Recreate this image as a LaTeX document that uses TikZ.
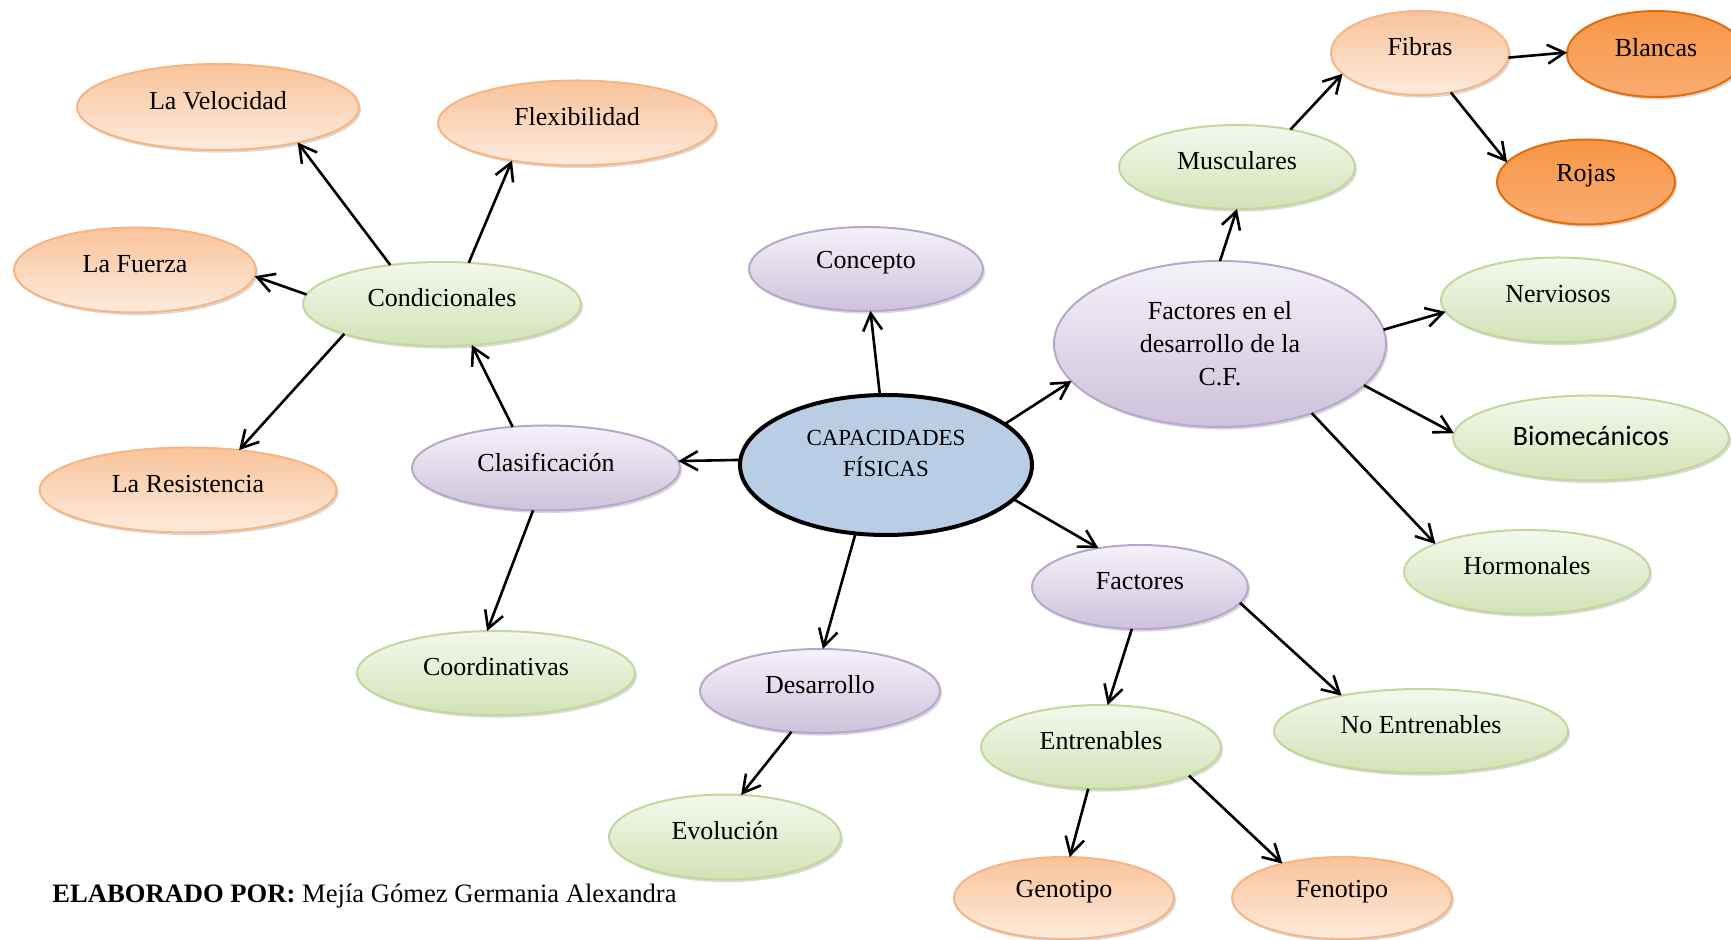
\documentclass[tikz,border=0pt]{standalone}
\usepackage{fontspec}
\setmainfont{Liberation Serif}
\newfontfamily\calib{Carlito}
\usetikzlibrary{shapes.geometric,arrows.meta,shadows}
\definecolor{gtop}{HTML}{F4F8EE}
\definecolor{gbot}{HTML}{D3E2B6}
\definecolor{gdraw}{HTML}{C3D69B}
\definecolor{otop}{HTML}{F9C39A}
\definecolor{obot}{HTML}{FDEBDD}
\definecolor{odraw}{HTML}{F8B584}
\definecolor{ptop}{HTML}{F5F2F9}
\definecolor{pbot}{HTML}{CDC2DB}
\definecolor{pdraw}{HTML}{B7A7CC}
\definecolor{dtop}{HTML}{F79646}
\definecolor{dbot}{HTML}{F9AC70}
\definecolor{ddraw}{HTML}{E46C0A}
\definecolor{capblue}{HTML}{B9CDE5}
\begin{document}
\begin{tikzpicture}[x=0.5pt,y=-0.5pt,
  base/.style={ellipse, inner sep=0pt, outer sep=0pt, line width=1pt,
    drop shadow={shadow xshift=1pt, shadow yshift=-1.3pt, fill=black!30}},
  gn/.style={base, draw=gdraw, top color=gtop, bottom color=gbot},
  onode/.style={base, draw=odraw, top color=otop, bottom color=obot},
  pn/.style={base, draw=pdraw, top color=ptop, bottom color=pbot},
  dn/.style={base, draw=ddraw, top color=dtop, bottom color=dbot},
  sz/.style 2 args={minimum width=#1pt, minimum height=#2pt},
  txt/.style={font=\fontsize{13}{15}\selectfont, inner sep=0pt},
  lab/.style={label={[txt,yshift=3pt]center:#1}},
  arr/.style={line width=1.3pt, -{Straight Barb[length=8.5pt,width=9.5pt]}}
]
\useasboundingbox (0,0) rectangle (1731,940);

% central
\node[ellipse, inner sep=0pt, outer sep=0pt, draw=black, line width=2pt, fill=capblue, sz={146}{70},
  label={[txt, font=\fontsize{11.5}{15.5}\selectfont, align=center, yshift=5.5pt]center:{CAPACIDADES\\FÍSICAS}}] (cap) at (886,465) {};

% purple
\node[pn, sz={117}{42}, lab=Concepto] (conc) at (866,269) {};
\node[pn, sz={134}{42.5}, lab=Clasificación] (clas) at (546,468) {};
\node[pn, sz={120}{42}, lab=Desarrollo] (des) at (820,691) {};
\node[pn, sz={108}{42}, lab=Factores] (fac) at (1140,587) {};
\node[pn, sz={166}{83},
  label={[txt, font=\fontsize{13}{16.5}\selectfont, align=center]center:{Factores en el\\desarrollo de la\\C.F.}}] (fdes) at (1220,344) {};

% green
\node[gn, sz={139}{42}, lab=Condicionales] (cond) at (442,304) {};
\node[gn, sz={139}{42}, lab=Coordinativas] (coord) at (496,673) {};
\node[gn, sz={116}{42.5}, lab=Evolución] (evo) at (725,837) {};
\node[gn, sz={118}{42}, lab=Musculares] (musc) at (1237,167) {};
\node[gn, sz={117}{42.5}, lab=Nerviosos] (nerv) at (1558,300) {};
\node[gn, sz={138}{42.5},
  label={[txt, font=\calib\fontsize{14}{16}\selectfont, yshift=1pt]center:Biomecánicos}] (bio) at (1591,438) {};
\node[gn, sz={123}{42}, lab=Hormonales] (hor) at (1527,572) {};
\node[gn, sz={147}{42}, lab={No Entrenables}] (noent) at (1421,731) {};
\node[gn, sz={120}{42}, lab=Entrenables] (ent) at (1101,747) {};

% light orange
\node[onode, sz={141}{43}, lab={La Velocidad}] (vel) at (218,107) {};
\node[onode, sz={139}{42.5}, lab=Flexibilidad] (flex) at (577,123) {};
\node[onode, sz={121}{42.5}, lab={La Fuerza}] (fue) at (135,270) {};
\node[onode, sz={148.5}{42.5}, lab={La Resistencia}] (res) at (188,490) {};
\node[onode, sz={89}{42}, lab=Fibras] (fib) at (1420,53) {};
\node[onode, sz={110}{41}, lab=Genotipo] (gen) at (1064,898) {};
\node[onode, sz={110}{41}, lab=Fenotipo] (fen) at (1342,898) {};

% dark orange
\node[dn, sz={89}{43}, lab=Blancas] (bla) at (1656,54) {};
\node[dn, sz={89}{42.5}, lab=Rojas] (roj) at (1586,182) {};

% connectors
\draw[arr] (cap.95) -- (conc.-84);
\draw[arr] (cap.178) -- (clas.3);
\draw[arr] (cap.19) -- (fdes.-166);
\draw[arr] (cap.-15) -- (fac.137);
\draw[arr] (cap.-114) -- (des.86);
\draw[arr] (clas.129) -- (cond.-54);
\draw[arr] (clas.-107) -- (coord.102);
\draw[arr] (cond.143) -- (vel.-24);
\draw[arr] (cond.57) -- (flex.-150);
\draw[arr] (cond.176) -- (fue.-3);
\draw[arr] (cond.-163) -- (res.38);
\draw[arr] (des.-125) -- (evo.69);
\draw[arr] (fdes.90) -- (musc.-90);
\draw[arr] (fdes.5) -- (nerv.-174);
\draw[arr] (fdes.-16) -- (bio.178);
\draw[arr] (fdes.-37) -- (hor.163);
\draw[arr] (musc.35) -- (fib.-165);
\draw[arr] (fib.-3) -- (bla.179);
\draw[arr] (fib.-52) -- (roj.166);
\draw[arr] (fac.-101) -- (ent.81);
\draw[arr] (fac.-9) -- (noent.156);
\draw[arr] (ent.-107) -- (gen.82);
\draw[arr] (ent.-18) -- (fen.150);

% footer
\node[txt, font=\fontsize{13.3}{15}\selectfont, anchor=west] (foot) at (52,896) {\textbf{ELABORADO POR:} Mejía Gómez Germania Alexandra};
\end{tikzpicture}
\end{document}
